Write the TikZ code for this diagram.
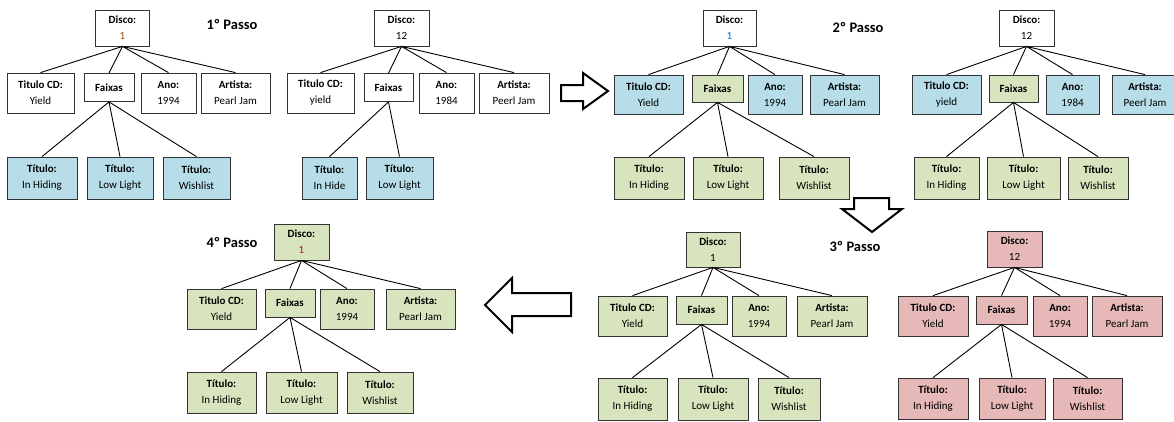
\documentclass[tikz,border=0pt]{standalone}
\usepackage{fontspec}
\setmainfont{Carlito}
\usepackage{xcolor}
\usepackage{tikz}
\usetikzlibrary{positioning}
\definecolor{cdblue}{RGB}{183,221,232}
\definecolor{cdgreen}{RGB}{215,228,189}
\definecolor{cdred}{RGB}{230,185,184}
\definecolor{valbrown}{RGB}{150,80,20}
\definecolor{valblue}{RGB}{0,112,192}
\definecolor{valred}{RGB}{150,30,30}

\begin{document}
\begin{tikzpicture}[
        x=1pt, y=-1pt,
        box/.style={rectangle,draw=black!80,line width=0.8pt,align=center,inner sep=1pt,
                    minimum height=40pt,font=\fontsize{11}{16}\selectfont},
        disco/.style={box,minimum width=54pt,minimum height=36pt},
        faixas/.style={box,minimum width=50pt,minimum height=28pt},
        leaf/.style={box,minimum height=42pt},
        passo/.style={font=\fontsize{14.5}{16}\selectfont\bfseries},
        link/.style={line width=0.9pt},
        blockarrow/.style={draw=black,line width=2pt,fill=white,miter limit=10}
      ]
        \useasboundingbox (0,0) rectangle (1174,421);

        % 1o passo, disco 1
        \node[disco]                    (aD)  at (122.5,28)  {\textbf{Disco:}\\\textcolor{valbrown}{1}};
        \node[box,minimum width=67pt]   (aT)  at (40.5,93)   {\textbf{Titulo CD:}\\Yield};
        \node[faixas]                   (aF)  at (109,87.5)  {\textbf{Faixas}};
        \node[box,minimum width=55pt]   (aA)  at (168.5,93)  {\textbf{Ano:}\\1994};
        \node[box,minimum width=69pt]   (aR)  at (235.5,93)  {\textbf{Artista:}\\Pearl Jam};
        \node[leaf,fill=cdblue,minimum width=70pt] (aL1) at (42,178)    {\textbf{Título:}\\In Hiding};
        \node[leaf,fill=cdblue,minimum width=66pt] (aL2) at (120,178)   {\textbf{Título:}\\Low Light};
        \node[leaf,fill=cdblue,minimum width=67pt] (aL3) at (196.5,178) {\textbf{Título:}\\Wishlist};
        \draw[link] (aD.south) -- (aT.north) (aD.south) -- (aF.north)
                    (aD.south) -- (aA.north) (aD.south) -- (aR.north);
        \draw[link] (aF.south) -- (aL1.north) (aF.south) -- (aL2.north) (aF.south) -- (aL3.north);
        \node[passo] (p1) at (232,25) {1º Passo};

        % 1o passo, disco 12
        \node[disco,minimum width=55pt] (bD)  at (401.5,28)  {\textbf{Disco:}\\12};
        \node[box,minimum width=67pt]   (bT)  at (320.5,93)  {\textbf{Titulo CD:}\\yield};
        \node[faixas,minimum width=49pt] (bF) at (388.5,87.5) {\textbf{Faixas}};
        \node[box,minimum width=55pt]   (bA)  at (446.5,93)  {\textbf{Ano:}\\1984};
        \node[box,minimum width=70pt]   (bR)  at (514,93)    {\textbf{Artista:}\\Peerl Jam};
        \node[leaf,fill=cdblue,minimum width=55pt] (bL1) at (329.5,178) {\textbf{Título:}\\In Hide};
        \node[leaf,fill=cdblue,minimum width=67pt] (bL2) at (399.5,178) {\textbf{Título:}\\Low Light};
        \draw[link] (bD.south) -- (bT.north) (bD.south) -- (bF.north)
                    (bD.south) -- (bA.north) (bD.south) -- (bR.north);
        \draw[link] (bF.south) -- (bL1.north) (bF.south) -- (bL2.north);

        % arrow to 2o passo
        \draw[blockarrow] (561,85) -- (583,85) -- (583,73) -- (608,91) -- (583,109)
                          -- (583,101) -- (561,101) -- cycle;

        % 2o passo, disco 1
        \node[disco,minimum width=53pt] (cD)  at (729.5,28)  {\textbf{Disco:}\\\textcolor{valblue}{1}};
        \node[box,fill=cdblue,minimum width=69pt,minimum height=39pt] (cT) at (648.5,94.5) {\textbf{Titulo CD:}\\Yield};
        \node[faixas,fill=cdgreen,minimum width=51pt,minimum height=27pt] (cF) at (717.5,88.5) {\textbf{Faixas}};
        \node[box,fill=cdblue,minimum width=54pt,minimum height=39pt] (cA) at (775,94.5) {\textbf{Ano:}\\1994};
        \node[box,fill=cdblue,minimum width=69pt,minimum height=39pt] (cR) at (844.5,94.5) {\textbf{Artista:}\\Pearl Jam};
        \node[leaf,fill=cdgreen,minimum width=70pt] (cL1) at (649,178) {\textbf{Título:}\\In Hiding};
        \node[leaf,fill=cdgreen,minimum width=70pt] (cL2) at (728,178) {\textbf{Título:}\\Low Light};
        \node[leaf,fill=cdgreen,minimum width=70pt] (cL3) at (814,178) {\textbf{Título:}\\Wishlist};
        \draw[link] (cD.south) -- (cT.north) (cD.south) -- (cF.north)
                    (cD.south) -- (cA.north) (cD.south) -- (cR.north);
        \draw[link] (cF.south) -- (cL1.north) (cF.south) -- (cL2.north) (cF.south) -- (cL3.north);
        \node[passo] (p2) at (858,28) {2º Passo};

        % 2o passo, disco 12
        \node[disco,minimum width=55pt] (dD)  at (1026.5,28) {\textbf{Disco:}\\12};
        \node[box,fill=cdblue,minimum width=69pt,minimum height=39pt] (dT) at (946.5,94.5) {\textbf{Titulo CD:}\\yield};
        \node[faixas,fill=cdgreen,minimum width=49pt,minimum height=27pt] (dF) at (1013.5,88.5) {\textbf{Faixas}};
        \node[box,fill=cdblue,minimum width=53pt,minimum height=39pt] (dA) at (1072.5,94.5) {\textbf{Ano:}\\1984};
        \node[box,fill=cdblue,minimum width=66pt,minimum height=39pt] (dR) at (1145,94.5) {\textbf{Artista:}\\Peerl Jam};
        \node[leaf,fill=cdgreen,minimum width=65pt] (dL1) at (946.5,178)  {\textbf{Título:}\\In Hiding};
        \node[leaf,fill=cdgreen,minimum width=73pt] (dL2) at (1023.5,178) {\textbf{Título:}\\Low Light};
        \node[leaf,fill=cdgreen,minimum width=60pt] (dL3) at (1098,178)   {\textbf{Título:}\\Wishlist};
        \draw[link] (dD.south) -- (dT.north) (dD.south) -- (dF.north)
                    (dD.south) -- (dA.north) (dD.south) -- (dR.north);
        \draw[link] (dF.south) -- (dL1.north) (dF.south) -- (dL2.north) (dF.south) -- (dL3.north);

        % arrow to 3o passo
        \draw[blockarrow] (854,198) -- (889,198) -- (889,209) -- (902,209) -- (872,232)
                          -- (842,209) -- (854,209) -- cycle;
        \node[passo] (p3) at (855,247) {3º Passo};

        % 3o passo, disco 1
        \node[disco,fill=cdgreen,minimum height=35pt] (eD) at (713,249.5) {\textbf{Disco:}\\1};
        \node[box,fill=cdgreen,minimum width=69pt] (eT) at (632.5,316) {\textbf{Titulo CD:}\\Yield};
        \node[faixas,fill=cdgreen,minimum width=51pt] (eF) at (701.5,310) {\textbf{Faixas}};
        \node[box,fill=cdgreen,minimum width=54pt] (eA) at (759,316) {\textbf{Ano:}\\1994};
        \node[box,fill=cdgreen,minimum width=70pt] (eR) at (832,316) {\textbf{Artista:}\\Pearl Jam};
        \node[leaf,fill=cdgreen,minimum width=69pt] (eL1) at (632.5,399) {\textbf{Título:}\\In Hiding};
        \node[leaf,fill=cdgreen,minimum width=70pt] (eL2) at (713,399)   {\textbf{Título:}\\Low Light};
        \node[leaf,fill=cdgreen,minimum width=62pt] (eL3) at (789,399)   {\textbf{Título:}\\Wishlist};
        \draw[link] (eD.south) -- (eT.north) (eD.south) -- (eF.north)
                    (eD.south) -- (eA.north) (eD.south) -- (eR.north);
        \draw[link] (eF.south) -- (eL1.north) (eF.south) -- (eL2.north) (eF.south) -- (eL3.north);

        % 3o passo, disco 12
        \node[disco,fill=cdred,minimum width=55pt] (fD) at (1014.5,249) {\textbf{Disco:}\\12};
        \node[box,fill=cdred,minimum width=70pt] (fT) at (933,316)    {\textbf{Titulo CD:}\\Yield};
        \node[faixas,fill=cdred,minimum width=51pt] (fF) at (1001.5,310) {\textbf{Faixas}};
        \node[box,fill=cdred,minimum width=54pt] (fA) at (1060,316)   {\textbf{Ano:}\\1994};
        \node[box,fill=cdred,minimum width=70pt] (fR) at (1127,316)   {\textbf{Artista:}\\Pearl Jam};
        \node[leaf,fill=cdred,minimum width=70pt,minimum height=41pt] (fL1) at (933,398.5)    {\textbf{Título:}\\In Hiding};
        \node[leaf,fill=cdred,minimum width=66pt,minimum height=41pt] (fL2) at (1012,398.5)   {\textbf{Título:}\\Low Light};
        \node[leaf,fill=cdred,minimum width=69pt,minimum height=41pt] (fL3) at (1087.5,398.5) {\textbf{Título:}\\Wishlist};
        \draw[link] (fD.south) -- (fT.north) (fD.south) -- (fF.north)
                    (fD.south) -- (fA.north) (fD.south) -- (fR.north);
        \draw[link] (fF.south) -- (fL1.north) (fF.south) -- (fL2.north) (fF.south) -- (fL3.north);

        % arrow to 4o passo
        \draw[blockarrow] (571,293) -- (512,293) -- (512,278) -- (485,305) -- (512,332)
                          -- (512,316) -- (571,316) -- cycle;

        % 4o passo
        \node[disco,fill=cdgreen,minimum width=55pt] (gD) at (301.5,242) {\textbf{Disco:}\\\textcolor{valred}{1}};
        \node[box,fill=cdgreen,minimum width=69pt] (gT) at (221.5,309) {\textbf{Titulo CD:}\\Yield};
        \node[faixas,fill=cdgreen]                 (gF) at (290,303)   {\textbf{Faixas}};
        \node[box,fill=cdgreen,minimum width=54pt] (gA) at (347,309)   {\textbf{Ano:}\\1994};
        \node[box,fill=cdgreen,minimum width=69pt] (gR) at (420.5,309) {\textbf{Artista:}\\Pearl Jam};
        \node[leaf,fill=cdgreen,minimum width=69pt,minimum height=41pt] (gL1) at (221.5,392.5) {\textbf{Título:}\\In Hiding};
        \node[leaf,fill=cdgreen,minimum width=71pt,minimum height=41pt] (gL2) at (301.5,392.5) {\textbf{Título:}\\Low Light};
        \node[leaf,fill=cdgreen,minimum width=66pt,minimum height=41pt] (gL3) at (380,392.5)   {\textbf{Título:}\\Wishlist};
        \draw[link] (gD.south) -- (gT.north) (gD.south) -- (gF.north)
                    (gD.south) -- (gA.north) (gD.south) -- (gR.north);
        \draw[link] (gF.south) -- (gL1.north) (gF.south) -- (gL2.north) (gF.south) -- (gL3.north);
        \node[passo] (p4) at (232,243) {4º Passo};
      \end{tikzpicture}
\end{document}
